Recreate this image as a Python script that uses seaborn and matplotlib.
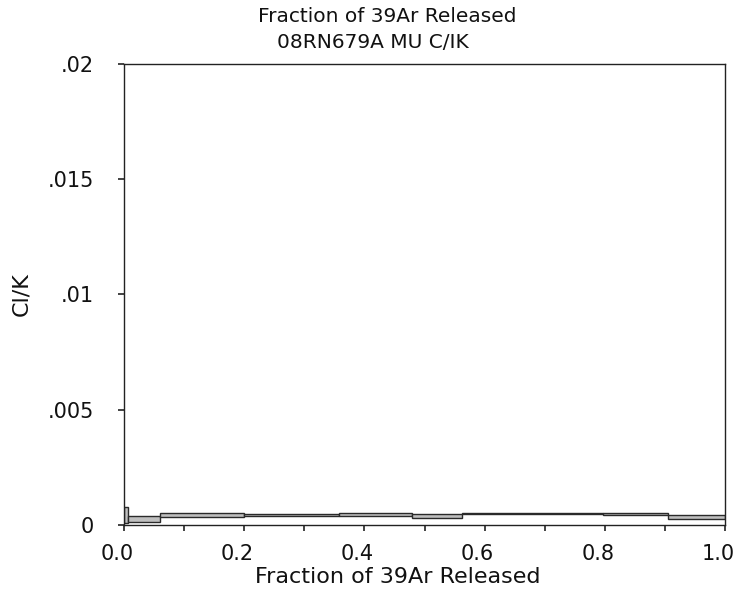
import matplotlib
matplotlib.use("Agg")
import matplotlib.pyplot as plt
import matplotlib.transforms as mtransforms
import seaborn as sns
import numpy as np

# Step-heating Cl/K spectrum: cumulative 39Ar fraction edges and 2-sigma band per step
step_edges = [0.0, 0.007, 0.06, 0.2, 0.358, 0.48, 0.563, 0.797, 0.905, 1.0]
clk_low = [0.00010, 0.00012, 0.00036, 0.00040, 0.00037, 0.00030, 0.00046, 0.00042, 0.00027]
clk_high = [0.00080, 0.00039, 0.00052, 0.00048, 0.00051, 0.00047, 0.00054, 0.00053, 0.00043]

y_ticks = [0, 0.005, 0.01, 0.015, 0.02]
y_tick_labels = ["0", ".005", ".01", ".015", ".02"]
x_ticks = [0.0, 0.2, 0.4, 0.6, 0.8, 1.0]
x_tick_labels = ["0.0", "0.2", "0.4", "0.6", "0.8", "1.0"]

sns.set_style("ticks")
plt.rcParams["font.family"] = ["DejaVu Sans"]

fig = plt.figure(figsize=(7.39, 5.92), dpi=100)
ax = fig.add_axes([0.1678, 0.1132, 0.8133, 0.7787])

edges = np.array(step_edges)
lo = np.array(clk_low)
hi = np.array(clk_high)
ax.bar(edges[:-1], hi - lo, bottom=lo, width=np.diff(edges), align="edge",
       color="#bfbfbf", edgecolor="#2a2a2a", linewidth=1.0)

ax.set_xlim(0, 1)
ax.set_ylim(0, 0.02)
ax.set_xticks(x_ticks)
ax.set_xticklabels(x_tick_labels)
ax.set_xticks(np.arange(0.1, 1.0, 0.2), minor=True)
ax.set_yticks(y_ticks)
ax.set_yticklabels(y_tick_labels)

for s in ax.spines.values():
    s.set_color("#222222")
    s.set_linewidth(1.0)
ax.tick_params(axis="both", which="both", direction="out", length=4.5, width=1.2,
               color="#222222", labelsize=15, labelcolor="#111111")
ax.tick_params(axis="y", pad=17)
ax.tick_params(axis="x", pad=9)

# nudge the x tick labels slightly to the left of their ticks
shift = mtransforms.ScaledTranslation(-7 / 100, 0, fig.dpi_scale_trans)
for lbl in ax.get_xticklabels():
    lbl.set_transform(lbl.get_transform() + shift)

ax.set_ylabel("Cl/K", fontsize=16, labelpad=12, color="#111111")

fig.text(398 / 739, 1 - 577 / 592, "Fraction of 39Ar Released", ha="center",
         va="center", fontsize=16, color="#111111")
fig.text(387 / 739, 1 - 17 / 592, "Fraction of 39Ar Released", ha="center",
         va="center", fontsize=14.5, color="#111111")
fig.text(373 / 739, 1 - 42 / 592, "08RN679A MU C/IK", ha="center",
         va="center", fontsize=14.5, color="#111111")

fig.savefig("out.png", dpi=100, facecolor="white")
